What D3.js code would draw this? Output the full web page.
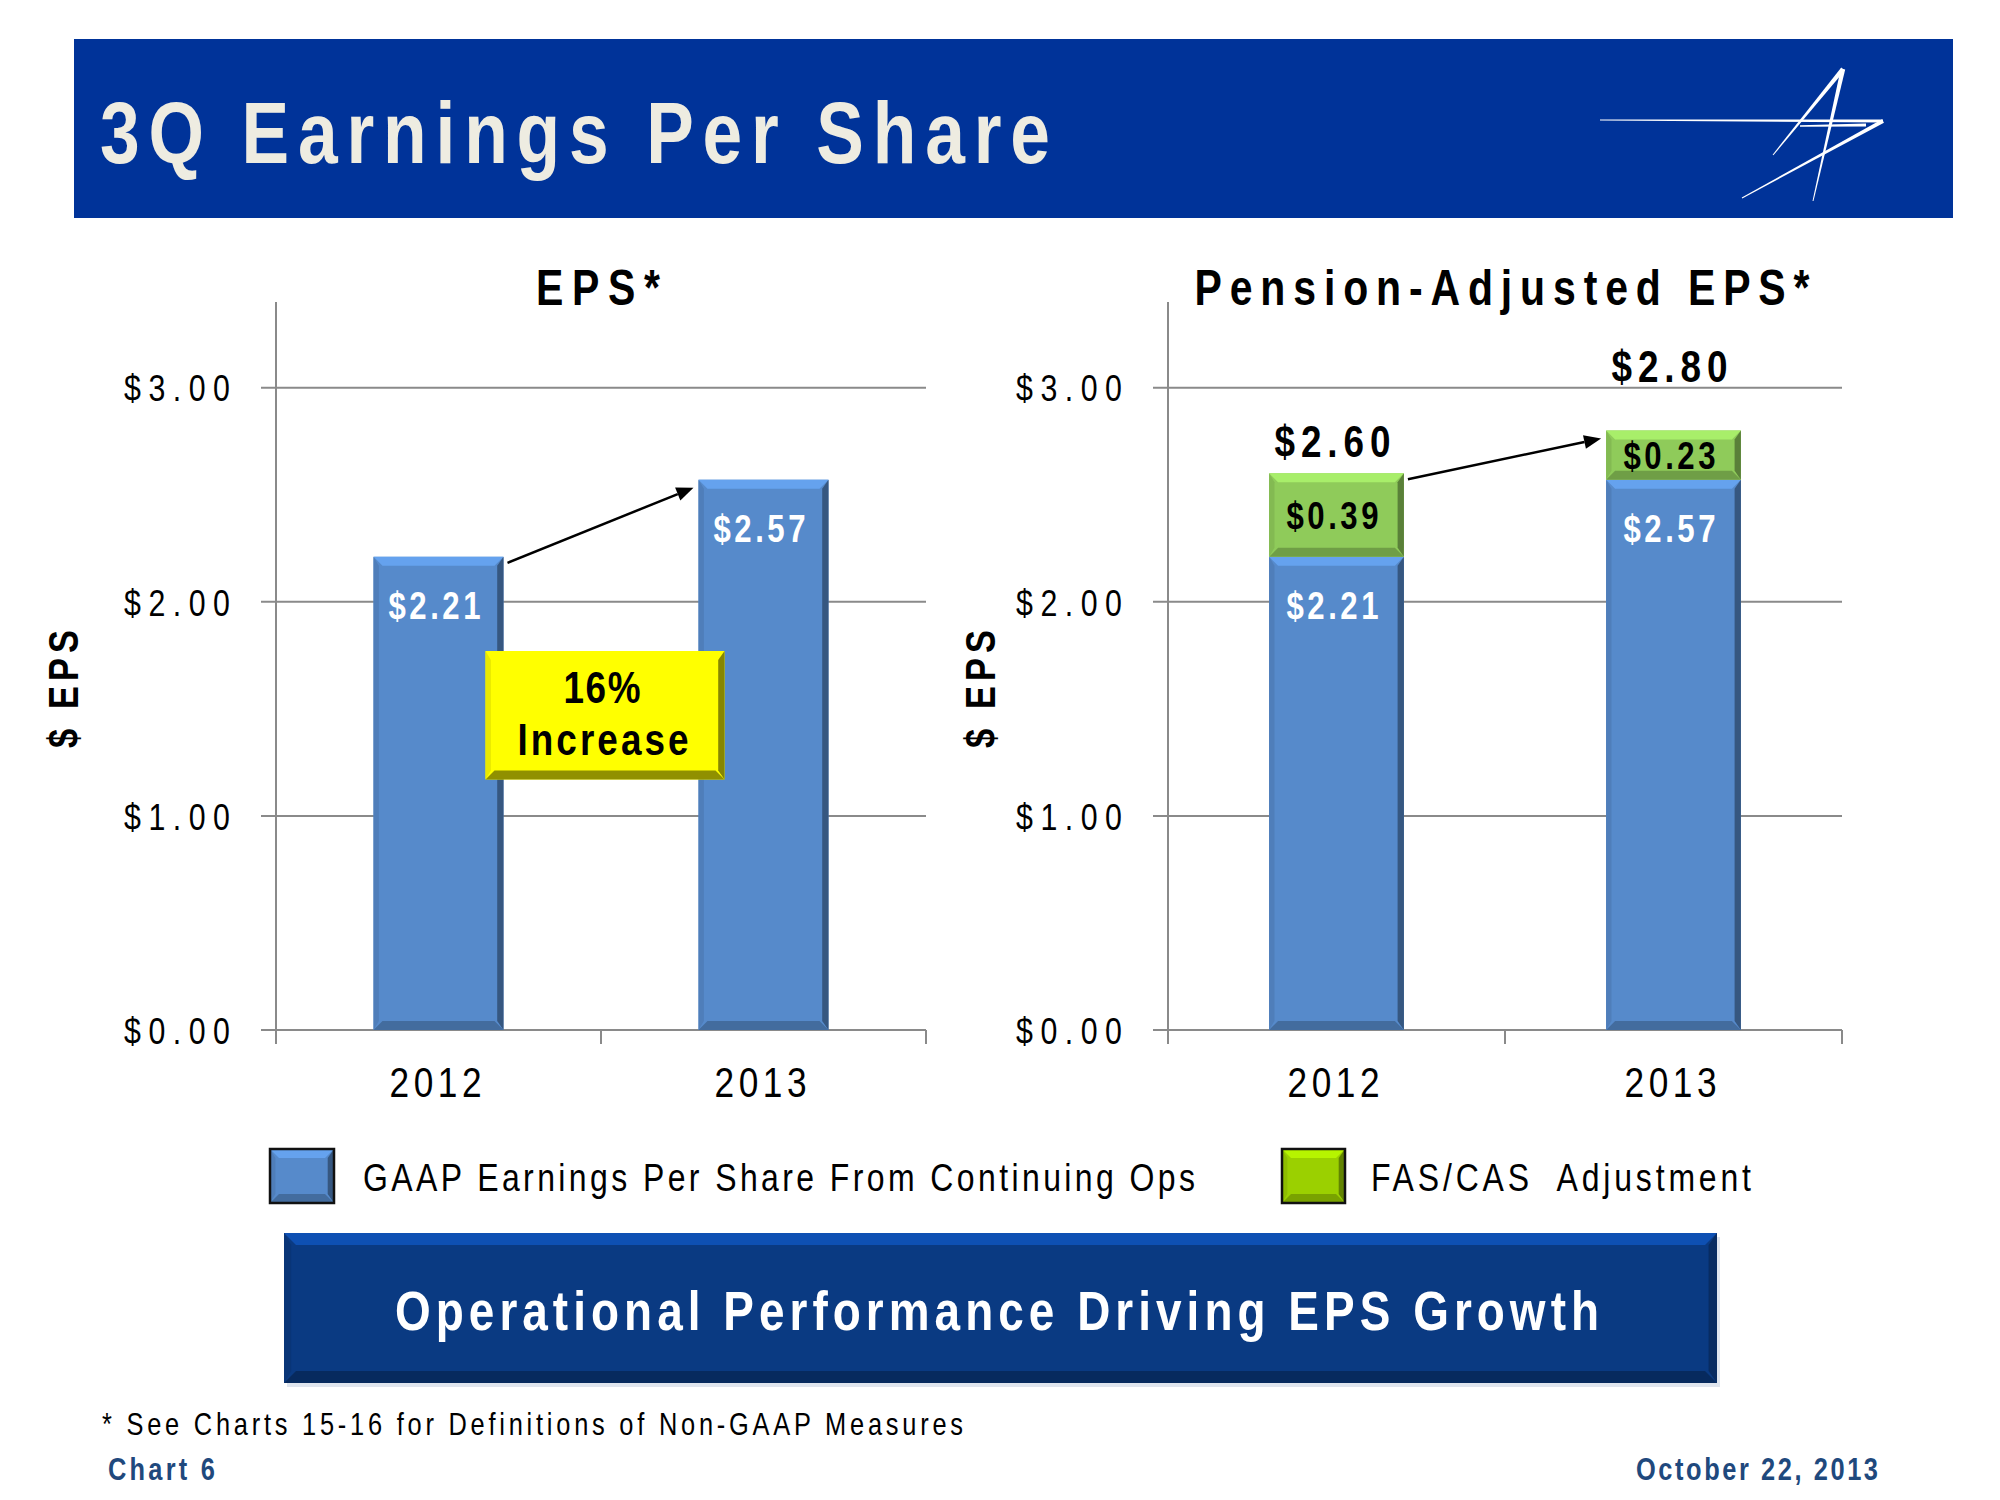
<!DOCTYPE html>
<html><head><meta charset="utf-8">
<script src="https://cdn.jsdelivr.net/npm/d3@7"></script>
<style>html,body{margin:0;padding:0;background:#fff}</style>
</head><body>
<svg id="c" width="2000" height="1500" xmlns="http://www.w3.org/2000/svg"></svg>
<script>
// ---------- DATA ----------
const years = ["2012", "2013"];
const gaapEPS = [2.21, 2.57];
const fasCasAdj = [0.39, 0.23];
const yTickValues = [0, 1, 2, 3];
const yDomainMax = 3.4;
const chartTitles = ["EPS*", "Pension-Adjusted EPS*"];
const legendLabels = ["GAAP Earnings Per Share From Continuing Ops", "FAS/CAS  Adjustment"];
const increaseText = ["16%", "Increase"];
const slideTitle = "3Q Earnings Per Share";
const bannerText = "Operational Performance Driving EPS Growth";
const footnote = "* See Charts 15-16 for Definitions of Non-GAAP Measures";
const footerLeft = "Chart 6";
const footerRight = "October 22, 2013";
const yAxisLabel = "$ EPS";

// ---------- STYLE ----------
const FN = "'Liberation Sans',Arial,sans-serif";
const NARROW = 0.82; // emulate Arial Narrow glyph width
const BLUE = "#568ACB", GREEN = "#8FCB5A", GRID = "#8a8a8a";
const fmt = d3.format("$.2f");

const svg = d3.select("#c");
svg.append("rect").attr("width", 2000).attr("height", 1500).attr("fill", "#fff");

function fit(sel, w) {
  sel.each(function () {
    const s = NARROW;
    const x = +(this.getAttribute("x") || 0), y = +(this.getAttribute("y") || 0);
    const tr = this.getAttribute("transform") || "";
    this.setAttribute("x", 0); this.setAttribute("y", 0);
    this.setAttribute("transform", `${tr} translate(${x},${y}) scale(${s},1)`);
    const n = this.getComputedTextLength();
    this.setAttribute("textLength", w / s);
    this.setAttribute("lengthAdjust", n * s <= w ? "spacing" : "spacingAndGlyphs");
  });
  return sel;
}
function txt(g, x, y, s, size, o = {}) {
  const t = g.append("text").attr("x", x).attr("y", y).text(s)
    .attr("font-family", FN).attr("font-size", size)
    .attr("font-weight", o.bold ? "bold" : "normal")
    .attr("fill", o.fill || "#000")
    .attr("text-anchor", o.anchor || "start")
    .style("white-space", "pre");
  if (o.width) fit(t, o.width);
  return t;
}
const pts = a => a.map(p => p.join(",")).join(" ");
function bevel(g, x, y, w, h, base, b, o = {}) {
  const c = d3.color(base);
  const gg = g.append("g");
  gg.append("rect").attr("x", x).attr("y", y).attr("width", w).attr("height", h).attr("fill", base);
  const bb = Math.min(b, h / 2);
  gg.append("polygon").attr("points", pts([[x, y], [x + w, y], [x + w - bb, y + bb], [x + bb, y + bb]]))
    .attr("fill", c.brighter(o.tb || 0.45));
  gg.append("polygon").attr("points", pts([[x, y + h], [x + w, y + h], [x + w - bb, y + h - bb], [x + bb, y + h - bb]]))
    .attr("fill", c.darker(o.bd || 0.7));
  gg.append("polygon").attr("points", pts([[x, y], [x + bb * 0.6, y + bb], [x + bb * 0.6, y + h - bb], [x, y + h]]))
    .attr("fill", c.darker(0.25));
  gg.append("polygon").attr("points", pts([[x + w, y], [x + w - bb * 0.7, y + bb], [x + w - bb * 0.7, y + h - bb], [x + w, y + h]]))
    .attr("fill", c.darker(o.rd || 1.3));
  if (o.stroke) gg.append("rect").attr("x", x).attr("y", y).attr("width", w).attr("height", h)
    .attr("fill", "none").attr("stroke", o.stroke).attr("stroke-width", o.sw || 2);
  return gg;
}

// ---------- HEADER ----------
svg.append("rect").attr("x", 74).attr("y", 39).attr("width", 1879).attr("height", 179).attr("fill", "#003399");
txt(svg, 100, 163, slideTitle, 87, { bold: true, fill: "#EEECE1", width: 950 });

function taper(p, q, w1, w2) {
  const dx = q[0] - p[0], dy = q[1] - p[1], L = Math.hypot(dx, dy), nx = -dy / L, ny = dx / L;
  return [[p[0] + nx * w1 / 2, p[1] + ny * w1 / 2], [q[0] + nx * w2 / 2, q[1] + ny * w2 / 2],
          [q[0] - nx * w2 / 2, q[1] - ny * w2 / 2], [p[0] - nx * w1 / 2, p[1] - ny * w1 / 2]];
}
const logo = svg.append("g").attr("fill", "#fff");
[
  [[1600, 120], [1883, 121], 1, 3],
  [[1800, 126], [1866, 125], 1.5, 3],
  [[1742, 198], [1883, 121], 1, 4],
  [[1773, 155], [1843, 69], 1, 4.5],
  [[1843, 69], [1813, 201], 4.5, 1]
].forEach(s => logo.append("polygon").attr("points", pts(taper(...s))));

// ---------- CHARTS ----------
const y = d3.scaleLinear().domain([0, yDomainMax]).range([1030, 302]);
const rows = years.map((yr, i) => ({ year: yr, gaap: gaapEPS[i], adj: fasCasAdj[i] }));
const panels = [
  { x0: 276, x1: 926, keys: ["gaap"], title: chartTitles[0], titleW: 124, labelX: 64 },
  { x0: 1168, x1: 1842, keys: ["gaap", "adj"], title: chartTitles[1], titleW: 615, labelX: 981 }
];
const colors = { gaap: BLUE, adj: GREEN };

panels.forEach((p, pi) => {
  const g = svg.append("g");
  const x = d3.scaleBand().domain(years).range([p.x0, p.x1]).paddingInner(0.6).paddingOuter(0.3);
  const bw = x.bandwidth();

  // gridlines
  g.selectAll(".grid").data(yTickValues).join("line")
    .attr("x1", p.x0 - 15).attr("x2", p.x1).attr("y1", d => y(d)).attr("y2", d => y(d))
    .attr("stroke", GRID).attr("stroke-width", 2);
  // y axis line
  g.append("line").attr("x1", p.x0).attr("x2", p.x0).attr("y1", y(yDomainMax)).attr("y2", y(0) + 14)
    .attr("stroke", GRID).attr("stroke-width", 2);
  // x ticks at band boundaries
  const bounds = d3.range(years.length + 1).map(i => p.x0 + i * (p.x1 - p.x0) / years.length);
  g.selectAll(".xt").data(bounds).join("line")
    .attr("x1", d => d).attr("x2", d => d).attr("y1", y(0)).attr("y2", y(0) + 14)
    .attr("stroke", GRID).attr("stroke-width", 2);

  // y tick labels via axis
  const ax = g.append("g").attr("transform", `translate(${p.x0},0)`)
    .call(d3.axisLeft(y).tickValues(yTickValues).tickFormat(fmt).tickSize(0).tickPadding(46));
  ax.select(".domain").remove();
  ax.selectAll("text").attr("font-family", FN).attr("font-size", 37).attr("fill", "#000")
    .attr("dy", "0.36em").call(s => fit(s, 106));

  // x labels
  g.selectAll(".xl").data(years).join("text")
    .attr("x", d => x(d) + bw / 2 - 3).attr("y", 1097).text(d => d)
    .attr("font-family", FN).attr("font-size", 43).attr("text-anchor", "middle")
    .call(s => fit(s, 92));

  // title
  txt(g, (p.x0 + p.x1) / 2 - 3, 305, p.title, 50, { bold: true, anchor: "middle", width: p.titleW });

  // y-axis label (rotated)
  g.append("text").attr("transform", `translate(${p.labelX + 14},689) rotate(-90)`)
    .text(yAxisLabel).attr("font-family", FN).attr("font-size", 42).attr("font-weight", "bold")
    .attr("text-anchor", "middle").style("white-space", "pre").call(s => fit(s, 118));

  // bars
  const stack = d3.stack().keys(p.keys)(rows);
  stack.forEach(layer => {
    layer.forEach((seg, i) => {
      const yr = rows[i].year;
      const top = y(seg[1]), bot = y(seg[0]);
      bevel(g, x(yr), top, bw, bot - top, colors[layer.key], 9);
      if (layer.key === "gaap") {
        txt(g, x(yr) + bw / 2 - 4, top + 62, fmt(seg[1] - seg[0]), 38, { bold: true, fill: "#fff", anchor: "middle", width: 92 });
      } else {
        txt(g, x(yr) + bw / 2 - 4, (top + bot) / 2 + 14, fmt(seg[1] - seg[0]), 38, { bold: true, fill: "#000", anchor: "middle", width: 92 });
      }
    });
  });

  // totals (stacked panel)
  if (p.keys.length > 1) {
    rows.forEach((r, i) => {
      const t = r.gaap + r.adj;
      let base = y(t) - 16;
      if (base - 31 < y(3)) base = y(3) - 6;
      txt(g, x(r.year) + bw / 2 - 4, base, fmt(t), 45, { bold: true, anchor: "middle", width: 116 });
    });
  }

  // growth arrow
  const totals = rows.map(r => p.keys.reduce((a, k) => a + r[k], 0));
  const sx = x(years[0]) + bw + 4, sy = y(totals[0]) + 6;
  const ex = x(years[1]) - 5, ey = y(totals[1]) + 8;
  const ang = Math.atan2(ey - sy, ex - sx), hl = 17, hw = 7;
  const bx = ex - hl * Math.cos(ang), by = ey - hl * Math.sin(ang);
  g.append("line").attr("x1", sx).attr("y1", sy).attr("x2", bx).attr("y2", by)
    .attr("stroke", "#000").attr("stroke-width", 2.5);
  g.append("polygon").attr("points", pts([[ex, ey],
    [bx + hw * Math.sin(ang), by - hw * Math.cos(ang)],
    [bx - hw * Math.sin(ang), by + hw * Math.cos(ang)]])).attr("fill", "#000");

  // 16% increase box (left panel)
  if (pi === 0) {
    const cx = (x(years[0]) + bw + x(years[1])) / 2 + 4;
    const bwid = 239, top = y(1.77), bot = y(1.17);
    bevel(g, cx - bwid / 2, top, bwid, bot - top, "#FFFF00", 9, { tb: 0.3, bd: 1.6, rd: 1.8 });
    txt(g, cx - 3, 703, increaseText[0], 45, { bold: true, anchor: "middle", width: 77 });
    txt(g, cx - 2, 755, increaseText[1], 45, { bold: true, anchor: "middle", width: 171 });
  }
});

// ---------- LEGEND ----------
const leg = svg.append("g");
bevel(leg, 270, 1149, 64, 54, BLUE, 9, { stroke: "#111", sw: 2.5 });
txt(leg, 363, 1191, legendLabels[0], 39, { width: 832 });
bevel(leg, 1282, 1149, 63, 54, "#9BD000", 9, { stroke: "#111", sw: 2.5 });
txt(leg, 1371, 1191, legendLabels[1], 39, { width: 380 });

// ---------- BANNER ----------
const ban = svg.append("g");
ban.append("rect").attr("x", 287).attr("y", 1237).attr("width", 1433).attr("height", 150).attr("fill", "#c9d3e3").attr("opacity", 0.6);
bevel(ban, 284, 1233, 1433, 150, "#0A3A82", 12, { tb: 0.9, bd: 0.9, rd: 0.8 });
txt(ban, 997, 1330, bannerText, 56, { bold: true, fill: "#fff", anchor: "middle", width: 1204 });

// ---------- FOOTER ----------
txt(svg, 102, 1435, footnote, 31, { width: 861 });
txt(svg, 108, 1480, footerLeft, 31, { bold: true, fill: "#1F497D", width: 107 });
txt(svg, 1878, 1480, footerRight, 31, { bold: true, fill: "#1F497D", anchor: "end", width: 242 });
</script>
</body></html>
